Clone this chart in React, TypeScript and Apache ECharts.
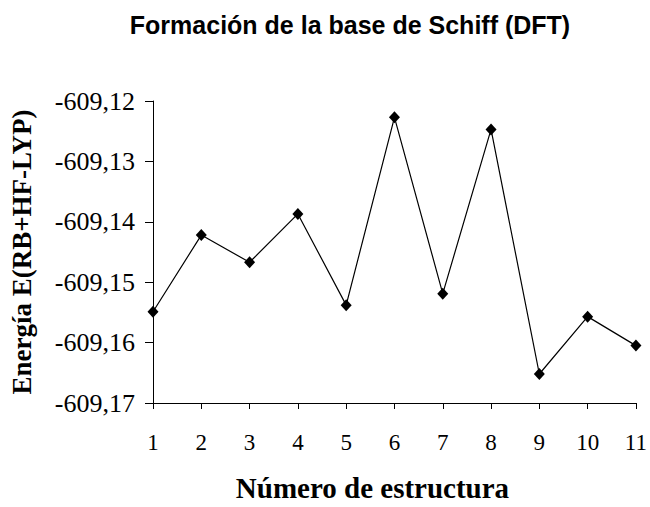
import React, { useEffect, useRef } from "react";
import * as echarts from "echarts";

const titleText = "Formación de la base de Schiff (DFT)";
const xAxisName = "Número de estructura";
const yAxisName = "Energía E(RB+HF-LYP)";
const structures = ["1", "2", "3", "4", "5", "6", "7", "8", "9", "10", "11"];
const energies = [
  -609.1549, -609.1422, -609.1467, -609.1387, -609.1538, -609.1227,
  -609.1519, -609.1247, -609.1652, -609.1557, -609.1605,
];
const yMin = -609.17;
const yMax = -609.12;
const yStep = 0.01;

const SERIF = "'Liberation Serif', 'Times New Roman', serif";
const SANS = "'Liberation Sans', Arial, sans-serif";

export default function App() {
  const ref = useRef<HTMLDivElement>(null);
  useEffect(() => {
    if (!ref.current) return;
    const chart = echarts.init(ref.current, null, { renderer: "svg" });
    chart.setOption({
      animation: false,
      backgroundColor: "#ffffff",
      textStyle: { fontFamily: SERIF, color: "#000" },
      title: {
        text: titleText,
        left: 345,
        top: 7,
        textAlign: "center",
        textStyle: {
          fontFamily: SANS,
          fontWeight: "bold",
          fontSize: 25,
          color: "#000",
        },
      },
      grid: { left: 146, right: 12, top: 101, bottom: 96, containLabel: false },
      xAxis: {
        type: "category",
        data: structures,
        boundaryGap: false,
        name: xAxisName,
        nameLocation: "middle",
        nameGap: 70,
        nameTextStyle: {
          fontFamily: SERIF,
          fontWeight: "bold",
          fontSize: 29,
          color: "#000",
          padding: [0, 44, 0, 0],
        },
        axisLine: { lineStyle: { color: "#000", width: 1 } },
        axisTick: { show: true, length: 6, alignWithLabel: true, lineStyle: { color: "#000" } },
        axisLabel: {
          margin: 28,
          fontFamily: SERIF,
          fontSize: 23,
          color: "#000",
        },
        splitLine: { show: false },
      },
      yAxis: {
        type: "value",
        min: yMin,
        max: yMax,
        interval: yStep,
        name: yAxisName,
        nameLocation: "middle",
        nameGap: 118,
        nameRotate: 90,
        nameTextStyle: {
          fontFamily: SERIF,
          fontWeight: "bold",
          fontSize: 27,
          color: "#000",
        },
        axisLine: { show: true, lineStyle: { color: "#000", width: 1 } },
        axisTick: { show: true, length: 8, lineStyle: { color: "#000" } },
        axisLabel: {
          margin: 18,
          fontFamily: "Liberation Serif",
          fontSize: 26,
          color: "#000",
          formatter: (v: number) => v.toFixed(2).replace(".", ","),
        },
        splitLine: { show: false },
      },
      series: [
        {
          type: "line",
          data: energies,
          symbol: "diamond",
          symbolSize: [11, 12],
          itemStyle: { color: "#000" },
          lineStyle: { color: "#000", width: 1.2 },
        },
      ],
    });
    return () => chart.dispose();
  }, []);
  return (
    <div
      ref={ref}
      style={{ position: "fixed", left: 0, top: 0, width: 650, height: 507 }}
    />
  );
}
